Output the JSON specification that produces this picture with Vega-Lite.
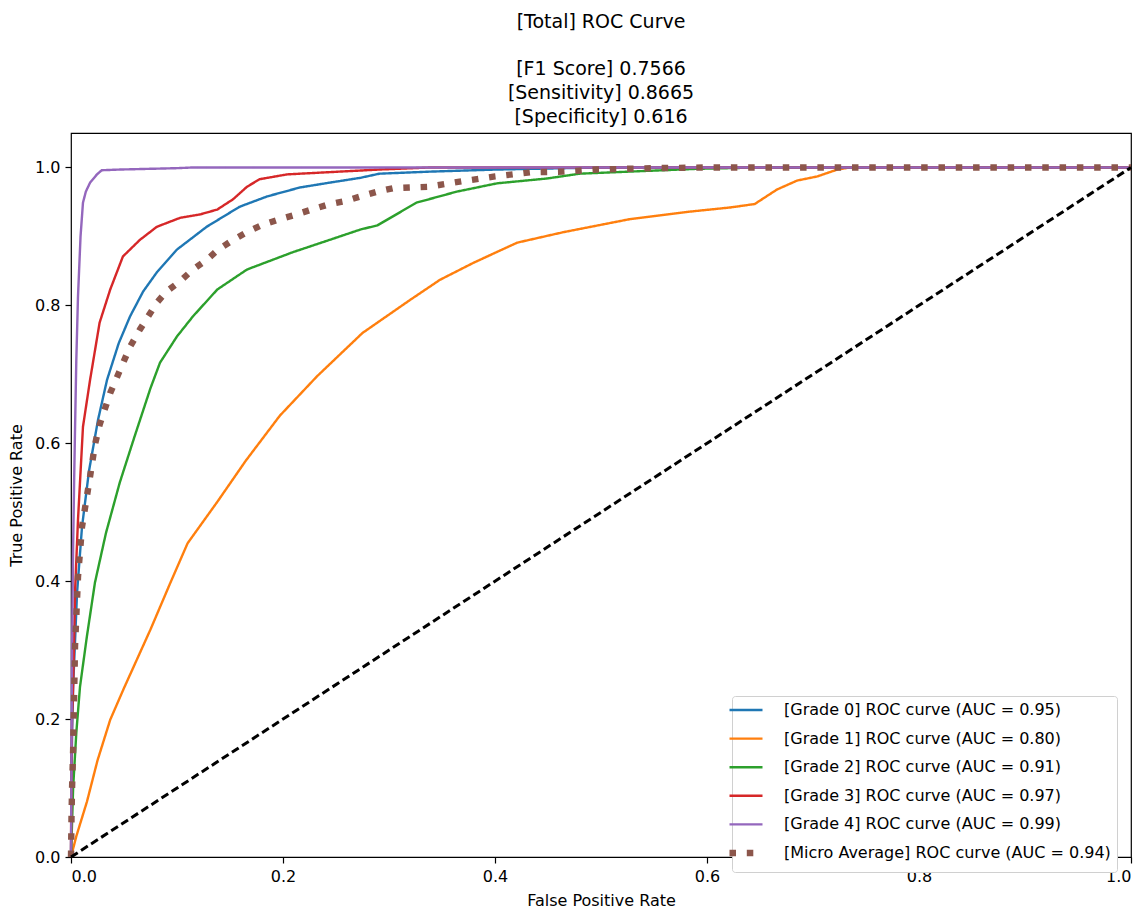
{
  "$schema": "https://vega.github.io/schema/vega-lite/v6.json",
  "autosize": "none",
  "width": 1060,
  "height": 724,
  "padding": {"left": 71, "top": 133, "right": 15, "bottom": 51},
  "background": "white",
  "config": {
    "font": "DejaVu Sans",
    "view": {"stroke": "black", "strokeWidth": 1.2},
    "axis": {"grid": false, "domain": false, "tickColor": "black", "tickSize": 6, "tickWidth": 1.2, "labelColor": "black", "labelFontSize": 16, "labelPadding": 5, "titleFontSize": 16, "titleFontWeight": "normal", "titleColor": "black"}
  },
  "title": {
    "text": "[Total] ROC Curve",
    "subtitle": ["[F1 Score] 0.7566", "[Sensitivity] 0.8665", " [Specificity] 0.616"],
    "fontSize": 19, "fontWeight": "normal", "color": "black", "lineHeight": 24,
    "subtitleFontSize": 19, "subtitleColor": "black", "subtitleLineHeight": 24, "subtitlePadding": 28,
    "anchor": "middle", "offset": 6
  },
  "data": {"values": [
    {"s":"[Grade 0] ROC curve (AUC = 0.95)","x":0,"y":0},
    {"s":"[Grade 0] ROC curve (AUC = 0.95)","x":0.0005,"y":0.1},
    {"s":"[Grade 0] ROC curve (AUC = 0.95)","x":0.001,"y":0.18},
    {"s":"[Grade 0] ROC curve (AUC = 0.95)","x":0.002,"y":0.247},
    {"s":"[Grade 0] ROC curve (AUC = 0.95)","x":0.004,"y":0.32},
    {"s":"[Grade 0] ROC curve (AUC = 0.95)","x":0.0057,"y":0.383},
    {"s":"[Grade 0] ROC curve (AUC = 0.95)","x":0.0104,"y":0.479},
    {"s":"[Grade 0] ROC curve (AUC = 0.95)","x":0.017,"y":0.56},
    {"s":"[Grade 0] ROC curve (AUC = 0.95)","x":0.0255,"y":0.634},
    {"s":"[Grade 0] ROC curve (AUC = 0.95)","x":0.034,"y":0.692},
    {"s":"[Grade 0] ROC curve (AUC = 0.95)","x":0.045,"y":0.745},
    {"s":"[Grade 0] ROC curve (AUC = 0.95)","x":0.0557,"y":0.784},
    {"s":"[Grade 0] ROC curve (AUC = 0.95)","x":0.068,"y":0.82},
    {"s":"[Grade 0] ROC curve (AUC = 0.95)","x":0.081,"y":0.848},
    {"s":"[Grade 0] ROC curve (AUC = 0.95)","x":0.1,"y":0.881},
    {"s":"[Grade 0] ROC curve (AUC = 0.95)","x":0.128,"y":0.914},
    {"s":"[Grade 0] ROC curve (AUC = 0.95)","x":0.159,"y":0.943},
    {"s":"[Grade 0] ROC curve (AUC = 0.95)","x":0.185,"y":0.958},
    {"s":"[Grade 0] ROC curve (AUC = 0.95)","x":0.216,"y":0.971},
    {"s":"[Grade 0] ROC curve (AUC = 0.95)","x":0.244,"y":0.978},
    {"s":"[Grade 0] ROC curve (AUC = 0.95)","x":0.273,"y":0.985},
    {"s":"[Grade 0] ROC curve (AUC = 0.95)","x":0.291,"y":0.991},
    {"s":"[Grade 0] ROC curve (AUC = 0.95)","x":0.339,"y":0.994},
    {"s":"[Grade 0] ROC curve (AUC = 0.95)","x":0.402,"y":0.997},
    {"s":"[Grade 0] ROC curve (AUC = 0.95)","x":0.5,"y":1.0},
    {"s":"[Grade 0] ROC curve (AUC = 0.95)","x":1,"y":1},

    {"s":"[Grade 1] ROC curve (AUC = 0.80)","x":0,"y":0},
    {"s":"[Grade 1] ROC curve (AUC = 0.80)","x":0.005,"y":0.03},
    {"s":"[Grade 1] ROC curve (AUC = 0.80)","x":0.015,"y":0.08},
    {"s":"[Grade 1] ROC curve (AUC = 0.80)","x":0.025,"y":0.14},
    {"s":"[Grade 1] ROC curve (AUC = 0.80)","x":0.037,"y":0.199},
    {"s":"[Grade 1] ROC curve (AUC = 0.80)","x":0.05,"y":0.245},
    {"s":"[Grade 1] ROC curve (AUC = 0.80)","x":0.075,"y":0.33},
    {"s":"[Grade 1] ROC curve (AUC = 0.80)","x":0.093,"y":0.395},
    {"s":"[Grade 1] ROC curve (AUC = 0.80)","x":0.11,"y":0.455},
    {"s":"[Grade 1] ROC curve (AUC = 0.80)","x":0.138,"y":0.515},
    {"s":"[Grade 1] ROC curve (AUC = 0.80)","x":0.165,"y":0.575},
    {"s":"[Grade 1] ROC curve (AUC = 0.80)","x":0.197,"y":0.64},
    {"s":"[Grade 1] ROC curve (AUC = 0.80)","x":0.232,"y":0.697},
    {"s":"[Grade 1] ROC curve (AUC = 0.80)","x":0.275,"y":0.76},
    {"s":"[Grade 1] ROC curve (AUC = 0.80)","x":0.32,"y":0.808},
    {"s":"[Grade 1] ROC curve (AUC = 0.80)","x":0.348,"y":0.837},
    {"s":"[Grade 1] ROC curve (AUC = 0.80)","x":0.38,"y":0.862},
    {"s":"[Grade 1] ROC curve (AUC = 0.80)","x":0.421,"y":0.891},
    {"s":"[Grade 1] ROC curve (AUC = 0.80)","x":0.464,"y":0.906},
    {"s":"[Grade 1] ROC curve (AUC = 0.80)","x":0.527,"y":0.925},
    {"s":"[Grade 1] ROC curve (AUC = 0.80)","x":0.584,"y":0.936},
    {"s":"[Grade 1] ROC curve (AUC = 0.80)","x":0.622,"y":0.942},
    {"s":"[Grade 1] ROC curve (AUC = 0.80)","x":0.645,"y":0.947},
    {"s":"[Grade 1] ROC curve (AUC = 0.80)","x":0.666,"y":0.968},
    {"s":"[Grade 1] ROC curve (AUC = 0.80)","x":0.685,"y":0.981},
    {"s":"[Grade 1] ROC curve (AUC = 0.80)","x":0.704,"y":0.987},
    {"s":"[Grade 1] ROC curve (AUC = 0.80)","x":0.723,"y":0.997},
    {"s":"[Grade 1] ROC curve (AUC = 0.80)","x":0.735,"y":1.0},
    {"s":"[Grade 1] ROC curve (AUC = 0.80)","x":1,"y":1},

    {"s":"[Grade 2] ROC curve (AUC = 0.91)","x":0,"y":0},
    {"s":"[Grade 2] ROC curve (AUC = 0.91)","x":0.001,"y":0.05},
    {"s":"[Grade 2] ROC curve (AUC = 0.91)","x":0.002,"y":0.10},
    {"s":"[Grade 2] ROC curve (AUC = 0.91)","x":0.005,"y":0.18},
    {"s":"[Grade 2] ROC curve (AUC = 0.91)","x":0.0085,"y":0.247},
    {"s":"[Grade 2] ROC curve (AUC = 0.91)","x":0.015,"y":0.32},
    {"s":"[Grade 2] ROC curve (AUC = 0.91)","x":0.0226,"y":0.398},
    {"s":"[Grade 2] ROC curve (AUC = 0.91)","x":0.033,"y":0.47},
    {"s":"[Grade 2] ROC curve (AUC = 0.91)","x":0.046,"y":0.543},
    {"s":"[Grade 2] ROC curve (AUC = 0.91)","x":0.06,"y":0.61},
    {"s":"[Grade 2] ROC curve (AUC = 0.91)","x":0.075,"y":0.68},
    {"s":"[Grade 2] ROC curve (AUC = 0.91)","x":0.084,"y":0.717},
    {"s":"[Grade 2] ROC curve (AUC = 0.91)","x":0.1,"y":0.755},
    {"s":"[Grade 2] ROC curve (AUC = 0.91)","x":0.115,"y":0.784},
    {"s":"[Grade 2] ROC curve (AUC = 0.91)","x":0.138,"y":0.823},
    {"s":"[Grade 2] ROC curve (AUC = 0.91)","x":0.166,"y":0.852},
    {"s":"[Grade 2] ROC curve (AUC = 0.91)","x":0.209,"y":0.877},
    {"s":"[Grade 2] ROC curve (AUC = 0.91)","x":0.244,"y":0.895},
    {"s":"[Grade 2] ROC curve (AUC = 0.91)","x":0.273,"y":0.91},
    {"s":"[Grade 2] ROC curve (AUC = 0.91)","x":0.289,"y":0.916},
    {"s":"[Grade 2] ROC curve (AUC = 0.91)","x":0.326,"y":0.949},
    {"s":"[Grade 2] ROC curve (AUC = 0.91)","x":0.364,"y":0.965},
    {"s":"[Grade 2] ROC curve (AUC = 0.91)","x":0.402,"y":0.977},
    {"s":"[Grade 2] ROC curve (AUC = 0.91)","x":0.449,"y":0.984},
    {"s":"[Grade 2] ROC curve (AUC = 0.91)","x":0.48,"y":0.991},
    {"s":"[Grade 2] ROC curve (AUC = 0.91)","x":0.527,"y":0.994},
    {"s":"[Grade 2] ROC curve (AUC = 0.91)","x":0.59,"y":0.998},
    {"s":"[Grade 2] ROC curve (AUC = 0.91)","x":0.65,"y":1.0},
    {"s":"[Grade 2] ROC curve (AUC = 0.91)","x":1,"y":1},

    {"s":"[Grade 3] ROC curve (AUC = 0.97)","x":0,"y":0},
    {"s":"[Grade 3] ROC curve (AUC = 0.97)","x":0.0003,"y":0.1},
    {"s":"[Grade 3] ROC curve (AUC = 0.97)","x":0.001,"y":0.2},
    {"s":"[Grade 3] ROC curve (AUC = 0.97)","x":0.002,"y":0.247},
    {"s":"[Grade 3] ROC curve (AUC = 0.97)","x":0.003,"y":0.32},
    {"s":"[Grade 3] ROC curve (AUC = 0.97)","x":0.004,"y":0.392},
    {"s":"[Grade 3] ROC curve (AUC = 0.97)","x":0.0066,"y":0.489},
    {"s":"[Grade 3] ROC curve (AUC = 0.97)","x":0.0113,"y":0.624},
    {"s":"[Grade 3] ROC curve (AUC = 0.97)","x":0.018,"y":0.692},
    {"s":"[Grade 3] ROC curve (AUC = 0.97)","x":0.027,"y":0.775},
    {"s":"[Grade 3] ROC curve (AUC = 0.97)","x":0.037,"y":0.823},
    {"s":"[Grade 3] ROC curve (AUC = 0.97)","x":0.049,"y":0.871},
    {"s":"[Grade 3] ROC curve (AUC = 0.97)","x":0.065,"y":0.895},
    {"s":"[Grade 3] ROC curve (AUC = 0.97)","x":0.081,"y":0.914},
    {"s":"[Grade 3] ROC curve (AUC = 0.97)","x":0.103,"y":0.927},
    {"s":"[Grade 3] ROC curve (AUC = 0.97)","x":0.122,"y":0.932},
    {"s":"[Grade 3] ROC curve (AUC = 0.97)","x":0.138,"y":0.939},
    {"s":"[Grade 3] ROC curve (AUC = 0.97)","x":0.153,"y":0.954},
    {"s":"[Grade 3] ROC curve (AUC = 0.97)","x":0.166,"y":0.972},
    {"s":"[Grade 3] ROC curve (AUC = 0.97)","x":0.178,"y":0.983},
    {"s":"[Grade 3] ROC curve (AUC = 0.97)","x":0.204,"y":0.99},
    {"s":"[Grade 3] ROC curve (AUC = 0.97)","x":0.241,"y":0.993},
    {"s":"[Grade 3] ROC curve (AUC = 0.97)","x":0.291,"y":0.997},
    {"s":"[Grade 3] ROC curve (AUC = 0.97)","x":0.339,"y":1.0},
    {"s":"[Grade 3] ROC curve (AUC = 0.97)","x":1,"y":1},

    {"s":"[Grade 4] ROC curve (AUC = 0.99)","x":0,"y":0},
    {"s":"[Grade 4] ROC curve (AUC = 0.99)","x":0.0005,"y":0.15},
    {"s":"[Grade 4] ROC curve (AUC = 0.99)","x":0.001,"y":0.3},
    {"s":"[Grade 4] ROC curve (AUC = 0.99)","x":0.002,"y":0.45},
    {"s":"[Grade 4] ROC curve (AUC = 0.99)","x":0.003,"y":0.55},
    {"s":"[Grade 4] ROC curve (AUC = 0.99)","x":0.0038,"y":0.62},
    {"s":"[Grade 4] ROC curve (AUC = 0.99)","x":0.005,"y":0.72},
    {"s":"[Grade 4] ROC curve (AUC = 0.99)","x":0.0066,"y":0.813},
    {"s":"[Grade 4] ROC curve (AUC = 0.99)","x":0.009,"y":0.9},
    {"s":"[Grade 4] ROC curve (AUC = 0.99)","x":0.0113,"y":0.949},
    {"s":"[Grade 4] ROC curve (AUC = 0.99)","x":0.014,"y":0.965},
    {"s":"[Grade 4] ROC curve (AUC = 0.99)","x":0.018,"y":0.978},
    {"s":"[Grade 4] ROC curve (AUC = 0.99)","x":0.0245,"y":0.99},
    {"s":"[Grade 4] ROC curve (AUC = 0.99)","x":0.029,"y":0.996},
    {"s":"[Grade 4] ROC curve (AUC = 0.99)","x":0.046,"y":0.997},
    {"s":"[Grade 4] ROC curve (AUC = 0.99)","x":0.1,"y":0.999},
    {"s":"[Grade 4] ROC curve (AUC = 0.99)","x":0.115,"y":1.0},
    {"s":"[Grade 4] ROC curve (AUC = 0.99)","x":1,"y":1},

    {"s":"[Micro Average] ROC curve (AUC = 0.94)","x":0,"y":0},
    {"s":"[Micro Average] ROC curve (AUC = 0.94)","x":0.0005,"y":0.06},
    {"s":"[Micro Average] ROC curve (AUC = 0.94)","x":0.001,"y":0.1},
    {"s":"[Micro Average] ROC curve (AUC = 0.94)","x":0.002,"y":0.155},
    {"s":"[Micro Average] ROC curve (AUC = 0.94)","x":0.0038,"y":0.305},
    {"s":"[Micro Average] ROC curve (AUC = 0.94)","x":0.0066,"y":0.406},
    {"s":"[Micro Average] ROC curve (AUC = 0.94)","x":0.0104,"y":0.479},
    {"s":"[Micro Average] ROC curve (AUC = 0.94)","x":0.018,"y":0.552},
    {"s":"[Micro Average] ROC curve (AUC = 0.94)","x":0.0226,"y":0.598},
    {"s":"[Micro Average] ROC curve (AUC = 0.94)","x":0.027,"y":0.627},
    {"s":"[Micro Average] ROC curve (AUC = 0.94)","x":0.037,"y":0.673},
    {"s":"[Micro Average] ROC curve (AUC = 0.94)","x":0.0557,"y":0.74},
    {"s":"[Micro Average] ROC curve (AUC = 0.94)","x":0.065,"y":0.765},
    {"s":"[Micro Average] ROC curve (AUC = 0.94)","x":0.081,"y":0.804},
    {"s":"[Micro Average] ROC curve (AUC = 0.94)","x":0.09,"y":0.82},
    {"s":"[Micro Average] ROC curve (AUC = 0.94)","x":0.103,"y":0.835},
    {"s":"[Micro Average] ROC curve (AUC = 0.94)","x":0.115,"y":0.852},
    {"s":"[Micro Average] ROC curve (AUC = 0.94)","x":0.128,"y":0.866},
    {"s":"[Micro Average] ROC curve (AUC = 0.94)","x":0.139,"y":0.881},
    {"s":"[Micro Average] ROC curve (AUC = 0.94)","x":0.153,"y":0.895},
    {"s":"[Micro Average] ROC curve (AUC = 0.94)","x":0.167,"y":0.907},
    {"s":"[Micro Average] ROC curve (AUC = 0.94)","x":0.181,"y":0.917},
    {"s":"[Micro Average] ROC curve (AUC = 0.94)","x":0.197,"y":0.925},
    {"s":"[Micro Average] ROC curve (AUC = 0.94)","x":0.213,"y":0.932},
    {"s":"[Micro Average] ROC curve (AUC = 0.94)","x":0.227,"y":0.939},
    {"s":"[Micro Average] ROC curve (AUC = 0.94)","x":0.242,"y":0.946},
    {"s":"[Micro Average] ROC curve (AUC = 0.94)","x":0.258,"y":0.951},
    {"s":"[Micro Average] ROC curve (AUC = 0.94)","x":0.273,"y":0.958},
    {"s":"[Micro Average] ROC curve (AUC = 0.94)","x":0.289,"y":0.965},
    {"s":"[Micro Average] ROC curve (AUC = 0.94)","x":0.304,"y":0.97},
    {"s":"[Micro Average] ROC curve (AUC = 0.94)","x":0.337,"y":0.972},
    {"s":"[Micro Average] ROC curve (AUC = 0.94)","x":0.369,"y":0.98},
    {"s":"[Micro Average] ROC curve (AUC = 0.94)","x":0.4,"y":0.987},
    {"s":"[Micro Average] ROC curve (AUC = 0.94)","x":0.433,"y":0.993},
    {"s":"[Micro Average] ROC curve (AUC = 0.94)","x":0.464,"y":0.994},
    {"s":"[Micro Average] ROC curve (AUC = 0.94)","x":0.496,"y":0.997},
    {"s":"[Micro Average] ROC curve (AUC = 0.94)","x":0.55,"y":0.999},
    {"s":"[Micro Average] ROC curve (AUC = 0.94)","x":0.6,"y":1.0},
    {"s":"[Micro Average] ROC curve (AUC = 0.94)","x":1,"y":1}
  ]},
  "encoding": {
    "x": {"field": "x", "type": "quantitative", "scale": {"domain": [0, 1], "nice": false}, "axis": {"title": "False Positive Rate", "values": [0, 0.2, 0.4, 0.6, 0.8, 1.0], "format": ".1f", "titlePadding": 8}},
    "y": {"field": "y", "type": "quantitative", "scale": {"domain": [0, 1.05], "nice": false}, "axis": {"title": "True Positive Rate", "values": [0, 0.2, 0.4, 0.6, 0.8, 1.0], "format": ".1f", "titlePadding": 10}}
  },
  "layer": [
    {
      "transform": [{"filter": "datum.s != '[Micro Average] ROC curve (AUC = 0.94)'"}],
      "mark": {"type": "line", "strokeWidth": 2.4},
      "encoding": {
        "color": {"field": "s", "type": "nominal",
          "scale": {"domain": ["[Grade 0] ROC curve (AUC = 0.95)", "[Grade 1] ROC curve (AUC = 0.80)", "[Grade 2] ROC curve (AUC = 0.91)", "[Grade 3] ROC curve (AUC = 0.97)", "[Grade 4] ROC curve (AUC = 0.99)", "[Micro Average] ROC curve (AUC = 0.94)"],
                    "range": ["#1f77b4", "#ff7f0e", "#2ca02c", "#d62728", "#9467bd", "#8c564b"]},
          "legend": {"title": null, "orient": "none", "legendX": 661, "legendY": 563, "symbolType": "stroke", "symbolSize": 1089, "labelFontSize": 16, "labelColor": "black", "labelOffset": 30, "padding": 6, "gridAlign": "all", "rowPadding": 2.6, "strokeColor": "#d0d0d0", "fillColor": "white", "cornerRadius": 3, "labelLimit": 500,
            "encode": {"symbols": {"update": {"strokeWidth": {"signal": "datum.index == 5 ? 6.4 : 2.4"}}}}}},
        "strokeDash": {"field": "s", "type": "nominal",
          "scale": {"domain": ["[Grade 0] ROC curve (AUC = 0.95)", "[Grade 1] ROC curve (AUC = 0.80)", "[Grade 2] ROC curve (AUC = 0.91)", "[Grade 3] ROC curve (AUC = 0.97)", "[Grade 4] ROC curve (AUC = 0.99)", "[Micro Average] ROC curve (AUC = 0.94)"],
                    "range": [[1, 0], [1, 0], [1, 0], [1, 0], [1, 0], [6.5, 10.8]]},
          "legend": {"title": null}}
      }
    },
    {
      "transform": [{"filter": "datum.s == '[Micro Average] ROC curve (AUC = 0.94)'"}],
      "mark": {"type": "line", "strokeWidth": 6.4, "strokeCap": "butt"},
      "encoding": {
        "color": {"field": "s", "type": "nominal"},
        "strokeDash": {"field": "s", "type": "nominal"}
      }
    },
    {
      "data": {"values": [{"x": 0, "y": 0}, {"x": 1, "y": 1}]},
      "mark": {"type": "line", "color": "black", "strokeWidth": 3, "strokeDash": [8, 4]},
      "encoding": {}
    }
  ]
}
